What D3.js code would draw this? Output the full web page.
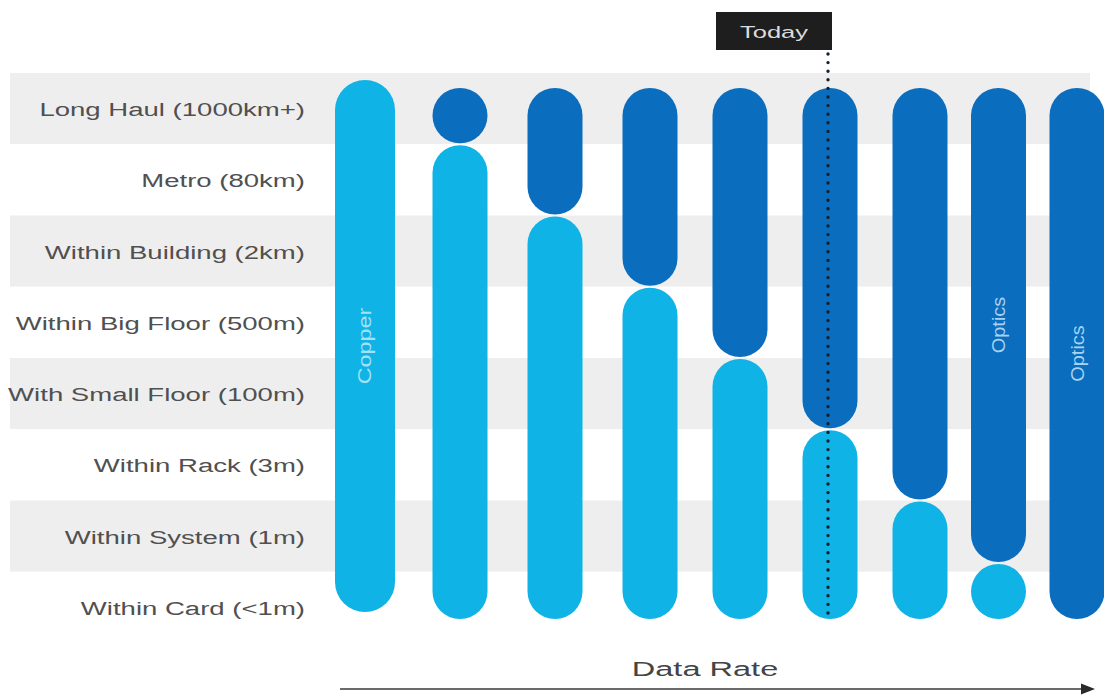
<!DOCTYPE html>
<html>
<head>
<meta charset="utf-8">
<script src="https://cdn.jsdelivr.net/npm/d3@7"></script>
<style>
  html, body { margin: 0; padding: 0; background: #fff; }
  svg { display: block; }
</style>
</head>
<body>
<div id="chart"></div>
<script>
// Interconnect reach by distance tier, per data-rate generation
const distances = [
  "Long Haul (1000km+)",
  "Metro (80km)",
  "Within Building (2km)",
  "Within Big Floor (500m)",
  "With Small Floor (100m)",
  "Within Rack (3m)",
  "Within System (1m)",
  "Within Card (<1m)"
];

// Generations along the data-rate axis (0 = slowest)
const generations = [0, 1, 2, 3, 4, 5, 6, 7, 8];

// How many distance tiers (counted from Long Haul down) use optics in each generation
const opticsTiers = [0, 1, 2, 3, 4, 5, 6, 7, 8];

// Text written inside particular segments
const segmentLabels = [
  { generation: 0, medium: "copper", text: "Copper" },
  { generation: 7, medium: "optics", text: "Optics" },
  { generation: 8, medium: "optics", text: "Optics" }
];

const todayGeneration = 5;
const todayLabel = "Today";
const axisTitle = "Data Rate";

// ---------------------------------------------------------------------------
const W = 1104, H = 695;
const COLORS = {
  copper: "#0fb3e5",
  optics: "#0a6dbd",
  band: "#efeeee",
  label: "#505050",
  copperText: "#a3e1f6",
  opticsText: "#a8d2f2"
};
const FONT = "'Liberation Sans', Arial, sans-serif";
const STRETCH = 1.45; // wide letterforms

const svg = d3.select("#chart").append("svg")
  .attr("width", W).attr("height", H);

// Distance tiers run top to bottom
const y = d3.scaleBand()
  .domain(d3.range(distances.length))
  .range([73, 643]);

// Generations get closer together as the data rate climbs
const x = d3.scaleLinear()
  .domain([0, 3, 6, 8])
  .range([365, 650, 920, 1077]);

// Alternating row bands
svg.append("g").selectAll("rect")
  .data(distances)
  .join("rect")
  .attr("x", 10)
  .attr("width", 1080)
  .attr("y", (d, i) => y(i))
  .attr("height", y.bandwidth())
  .attr("fill", (d, i) => i % 2 === 0 ? COLORS.band : "#ffffff");

// Row labels
svg.append("g").selectAll("text")
  .data(distances)
  .join("text")
  .attr("transform", (d, i) => `translate(305,${y(i) + y.bandwidth() / 2 + 1}) scale(${STRETCH},1)`)
  .attr("text-anchor", "end")
  .attr("dominant-baseline", "central")
  .attr("font-family", FONT)
  .attr("font-size", 19)
  .attr("fill", COLORS.label)
  .text(d => d);

// Build capsule segments for each generation
const n = distances.length;
const segments = [];
generations.forEach((g, i) => {
  const r = opticsTiers[i];
  const copperOnly = r === 0;
  const w = copperOnly ? 60 : 55;
  const top = copperOnly ? 80 : 88;
  const bottom = copperOnly ? 612 : 619;
  // copper part (anchored at the bottom, never shorter than a circle)
  let copperTop = null;
  if (r < n) {
    copperTop = r === 0 ? top : y(r) + 1;
    copperTop = Math.min(copperTop, bottom - w);
  }
  if (r > 0) {
    let b = r === n ? bottom : y(r) - 1;
    if (copperTop !== null) b = Math.min(b, copperTop - 2);
    b = Math.max(b, top + w);
    segments.push({ generation: g, medium: "optics", cx: x(g), w, y0: top, y1: b });
  }
  if (copperTop !== null) {
    segments.push({ generation: g, medium: "copper", cx: x(g), w, y0: copperTop, y1: bottom });
  }
});

svg.append("g").selectAll("rect")
  .data(segments)
  .join("rect")
  .attr("x", d => d.cx - d.w / 2)
  .attr("width", d => d.w)
  .attr("y", d => d.y0)
  .attr("height", d => d.y1 - d.y0)
  .attr("rx", d => d.w / 2)
  .attr("ry", d => d.w / 2)
  .attr("fill", d => COLORS[d.medium]);

// Vertical labels inside segments
svg.append("g").selectAll("text")
  .data(segmentLabels)
  .join("text")
  .each(function (d) {
    const s = segments.find(s => s.generation === d.generation && s.medium === d.medium);
    const cy = (s.y0 + s.y1) / 2;
    const isCopper = d.medium === "copper";
    d3.select(this)
      .attr("transform", `translate(${s.cx},${cy}) rotate(-90) scale(${isCopper ? 1.3 : 1.05},1)`)
      .attr("font-size", isCopper ? 18 : 19)
      .attr("fill", isCopper ? COLORS.copperText : COLORS.opticsText);
  })
  .attr("text-anchor", "middle")
  .attr("dominant-baseline", "central")
  .attr("font-family", FONT)
  .text(d => d.text);

// "Today" marker
const tx = x(todayGeneration) - 2;
svg.append("line")
  .attr("x1", tx).attr("x2", tx)
  .attr("y1", 54).attr("y2", 617)
  .attr("stroke", "#16202c")
  .attr("stroke-width", 3.4)
  .attr("stroke-linecap", "round")
  .attr("stroke-dasharray", "0 8.6");

const todayG = svg.append("g");
const boxW = 116, boxH = 38;
todayG.append("rect")
  .attr("x", tx + 4 - boxW)
  .attr("y", 12)
  .attr("width", boxW)
  .attr("height", boxH)
  .attr("fill", "#1e1e1e");
todayG.append("text")
  .attr("transform", `translate(${tx + 4 - boxW / 2},${12 + boxH / 2 + 1}) scale(1.5,1)`)
  .attr("text-anchor", "middle")
  .attr("dominant-baseline", "central")
  .attr("font-family", FONT)
  .attr("font-size", 17)
  .attr("fill", "#dcdcdc")
  .text(todayLabel);

// Data-rate axis arrow
svg.append("line")
  .attr("x1", 340).attr("x2", 1084)
  .attr("y1", 689).attr("y2", 689)
  .attr("stroke", "#3a3a3a")
  .attr("stroke-width", 1.6);
svg.append("path")
  .attr("d", "M1095,689 L1081,683.5 L1081,694.5 Z")
  .attr("fill", "#2a2a2a");

svg.append("text")
  .attr("transform", `translate(705,676) scale(1.55,1)`)
  .attr("text-anchor", "middle")
  .attr("font-family", FONT)
  .attr("font-size", 21)
  .attr("fill", "#444")
  .text(axisTitle);
</script>
</body>
</html>
